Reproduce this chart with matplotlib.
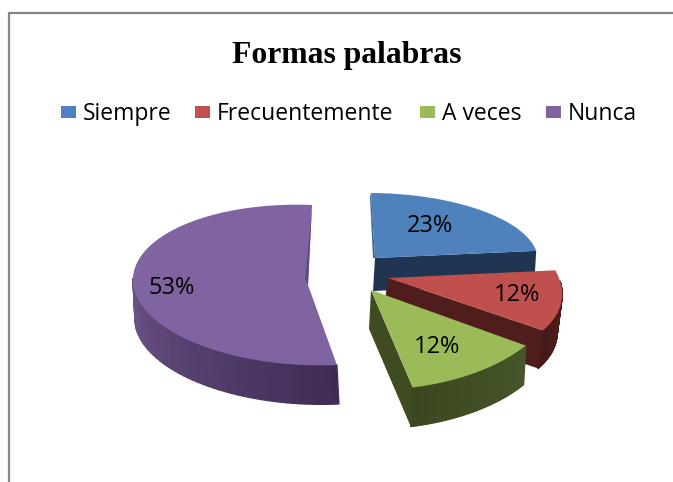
import numpy as np
from matplotlib import pyplot as plt
from matplotlib.collections import PolyCollection
from matplotlib.colors import LinearSegmentedColormap
from matplotlib.patches import Rectangle

title = 'Formas palabras'
categories = ['Siempre', 'Frecuentemente', 'A veces', 'Nunca']
values = [23, 12, 12, 53]
percent_labels = ['23%', '12%', '12%', '53%']

top_colors = ['#4F81BD', '#C0504D', '#9BBB59', '#8064A2']
# rim shading from the start of each slice to its end
rim_colors = [['#1F3552', '#1F3552'],
              ['#54211F', '#451A18'],
              ['#46552A', '#3B4720'],
              ['#3F2D55', '#553F6E', '#6E5389']]
cut_colors = ['#1F3552', '#4F1E1C', '#3F4C22', '#5F4A80']

# slice layout in pixels: apex, cos axis, sin axis, extrusion (a tilted pie is not one ellipse)
apex = [(375, 258), (388, 278), (371, 290), (308, 285)]
cos_axis = [(163, -1), (172, -3), (186, 4), (175, -7)]
sin_axis = [(-4, 65), (-27, 85), (-7, 100), (4, 80)]
extrude = [(-2, 33), (-5, 38), (-2, 39), (2, 39)]
label_pos = [(430, 226), (517, 295), (437, 347), (172, 288)]
legend_box_x = [61, 195, 420, 546]
legend_text_x = [83, 217, 442, 568]


def rim_points(i, angles):
    x = apex[i][0] + cos_axis[i][0]*np.cos(angles) + sin_axis[i][0]*np.sin(angles)
    y = apex[i][1] - cos_axis[i][1]*np.cos(angles) - sin_axis[i][1]*np.sin(angles)
    return np.column_stack([x, y])


def draw_slice(ax, i, start, stop):
    angles = np.linspace(start, stop, 90)
    rim = rim_points(i, angles)
    shift = np.array(extrude[i])
    cmap = LinearSegmentedColormap.from_list('rim', rim_colors[i])

    # outer wall as small quads for the gradient, front half of the rim only
    front = rim[np.sin(angles) <= 0]
    if len(front) > 2:
        quads = [[front[k], front[k+1], front[k+1]+shift, front[k]+shift] for k in range(len(front)-1)]
        shades = [cmap(k/(len(quads)-1)) for k in range(len(quads))]
        ax.add_collection(PolyCollection(quads, facecolors=shades, edgecolors=shades, linewidths=1.0))

    center = np.array(apex[i], dtype=float)
    edge = rim[-1]
    if i < 3:
        # cut wall facing us
        ax.fill(*zip(center, edge, edge+shift, center+shift), color=cut_colors[i], lw=0)
    ax.fill(*zip(center, *rim), color=top_colors[i], lw=0)
    if i == 3:
        # inner wall seen through the gap at the back
        ax.fill(*zip(edge, center, center+(-3, -6), edge+(-2, 25)), color=cut_colors[i], lw=0)
    if i == 0:
        corner = rim[0]
        ax.fill(*zip(corner, center, center+(-2, 0), corner+(-1, 4)), color='#42688F', lw=0)


fig = plt.figure(figsize=(6.73, 4.82), dpi=100)
ax = fig.add_axes([0, 0, 1, 1])
ax.set_xlim(0, 673)
ax.set_ylim(482, 0)
ax.axis('off')

# chart frame, cropped at the right and bottom
ax.plot([8.5, 8.5, 673], [482, 12.5, 12.5], color='#868686', lw=1.6, solid_joinstyle='miter')

ax.text(347, 55, title, family='Liberation Serif', weight='bold', fontsize=22.8,
        ha='center', va='center', color='black')

for i, name in enumerate(categories):
    ax.add_patch(Rectangle((legend_box_x[i], 106), 15, 12, color=top_colors[i], lw=0))
    ax.text(legend_text_x[i], 114, name, family='Open Sans', fontsize=16.5, ha='left', va='center')

# slices run clockwise from twelve o'clock
edges = np.pi/2 - 2*np.pi*np.cumsum([0] + values)/sum(values)
for i in range(len(values)):
    draw_slice(ax, i, edges[i], edges[i+1])

for i, label in enumerate(percent_labels):
    ax.text(label_pos[i][0], label_pos[i][1], label, family='Open Sans', fontsize=17,
            ha='center', va='center')

fig.savefig('out.png', dpi=100)
